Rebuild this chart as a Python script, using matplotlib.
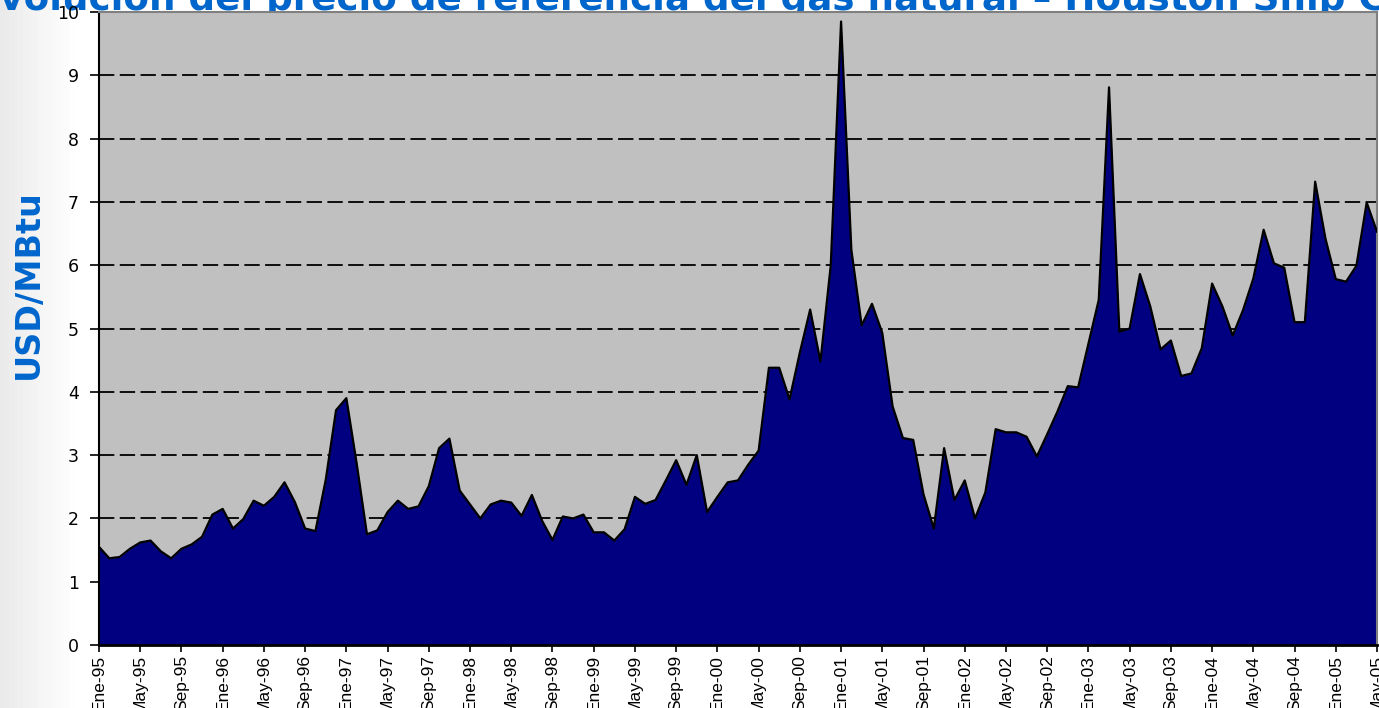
import numpy as np
import matplotlib.pyplot as plt

# =========================
# DATA (monthly, Ene-95 .. May-05), USD/MBtu
# =========================
prices = [
    1.55, 1.37, 1.39, 1.52, 1.62, 1.65, 1.48, 1.37, 1.52, 1.59, 1.71, 2.06,   # 1995
    2.15, 1.84, 1.99, 2.28, 2.20, 2.34, 2.57, 2.26, 1.84, 1.80, 2.61, 3.71,   # 1996
    3.90, 2.87, 1.75, 1.81, 2.10, 2.28, 2.15, 2.19, 2.51, 3.11, 3.26, 2.44,   # 1997
    2.22, 2.00, 2.22, 2.28, 2.25, 2.04, 2.37, 1.96, 1.66, 2.03, 2.00, 2.06,   # 1998
    1.78, 1.78, 1.65, 1.83, 2.34, 2.23, 2.29, 2.60, 2.92, 2.53, 3.00, 2.10,   # 1999
    2.34, 2.57, 2.60, 2.85, 3.07, 4.38, 4.38, 3.88, 4.62, 5.30, 4.48, 6.00,   # 2000
    9.85, 6.24, 5.05, 5.39, 4.93, 3.77, 3.27, 3.24, 2.38, 1.84, 3.11, 2.29,   # 2001
    2.60, 2.00, 2.41, 3.41, 3.36, 3.36, 3.29, 2.98, 3.33, 3.69, 4.09, 4.07,   # 2002
    4.76, 5.45, 8.81, 4.95, 5.00, 5.86, 5.35, 4.67, 4.81, 4.25, 4.29, 4.69,   # 2003
    5.71, 5.35, 4.89, 5.29, 5.79, 6.56, 6.03, 5.96, 5.10, 5.10, 7.32, 6.42,   # 2004
    5.78, 5.74, 5.99, 6.99, 6.53,                                             # 2005
]

tick_labels = [
    "Ene-95", "May-95", "Sep-95", "Ene-96", "May-96", "Sep-96", "Ene-97", "May-97",
    "Sep-97", "Ene-98", "May-98", "Sep-98", "Ene-99", "May-99", "Sep-99", "Ene-00",
    "May-00", "Sep-00", "Ene-01", "May-01", "Sep-01", "Ene-02", "May-02", "Sep-02",
    "Ene-03", "May-03", "Sep-03", "Ene-04", "May-04", "Sep-04", "Ene-05", "May-05",
]

title_text = "Evolución del precio de referencia del gas natural \u2013 Houston Ship Channel"
ylabel_text = "USD/MBtu"

BLUE = "#0066CC"
NAVY = "#000080"

# =========================
# PLOT
# =========================
fig = plt.figure(figsize=(13.79, 7.08), dpi=100)

# light grey gradient on the left edge of the slide
bg = fig.add_axes([0, 0, 1, 1], zorder=-10)
grad = np.linspace(0, 1, 300)
grad = np.clip(grad / 0.055, 0, 1)
bg.imshow(grad[np.newaxis, :], aspect="auto", cmap="gray", vmin=-11, vmax=1,
          extent=[0, 1, 0, 1])
bg.set_axis_off()

ax = fig.add_axes([99 / 1379, 63 / 708, 1278 / 1379, 633 / 708])
x = np.arange(len(prices))
ax.set_facecolor("#C0C0C0")
ax.fill_between(x, prices, 0, color=NAVY, linewidth=0, zorder=2)
ax.plot(x, prices, color="black", linewidth=1.6, zorder=3)

ax.set_xlim(0, len(prices) - 1)
ax.set_ylim(0, 10)
ax.set_yticks(range(0, 11))
ax.set_xticks(x[::4])
ax.set_xticklabels(tick_labels, rotation=90, fontsize=12.5, family="Liberation Sans")
ax.tick_params(axis="y", labelsize=12.5, length=6.5, width=1.2, pad=8)
ax.tick_params(axis="x", length=5, width=1.2, pad=2)

for v in range(1, 10):
    ax.axhline(v, color="black", linewidth=1.3, linestyle=(0, (8.5, 3)), zorder=1)

ax.spines["left"].set_linewidth(1.5)
ax.spines["bottom"].set_linewidth(2.0)
ax.spines["top"].set_color("#808080")
ax.spines["right"].set_color("#808080")
ax.spines["top"].set_linewidth(1.5)
ax.spines["right"].set_linewidth(1.5)

fig.text(-26 / 1379, 1 - 10 / 708, title_text, fontsize=26.8, fontweight="bold",
         color=BLUE, ha="left", va="baseline", family="DejaVu Sans", zorder=-1)
fig.text(28 / 1379, 1 - 284 / 708, ylabel_text, fontsize=24, fontweight="bold",
         color=BLUE, ha="center", va="center", rotation=90, family="DejaVu Sans")

fig.savefig("out.png", dpi=100)
